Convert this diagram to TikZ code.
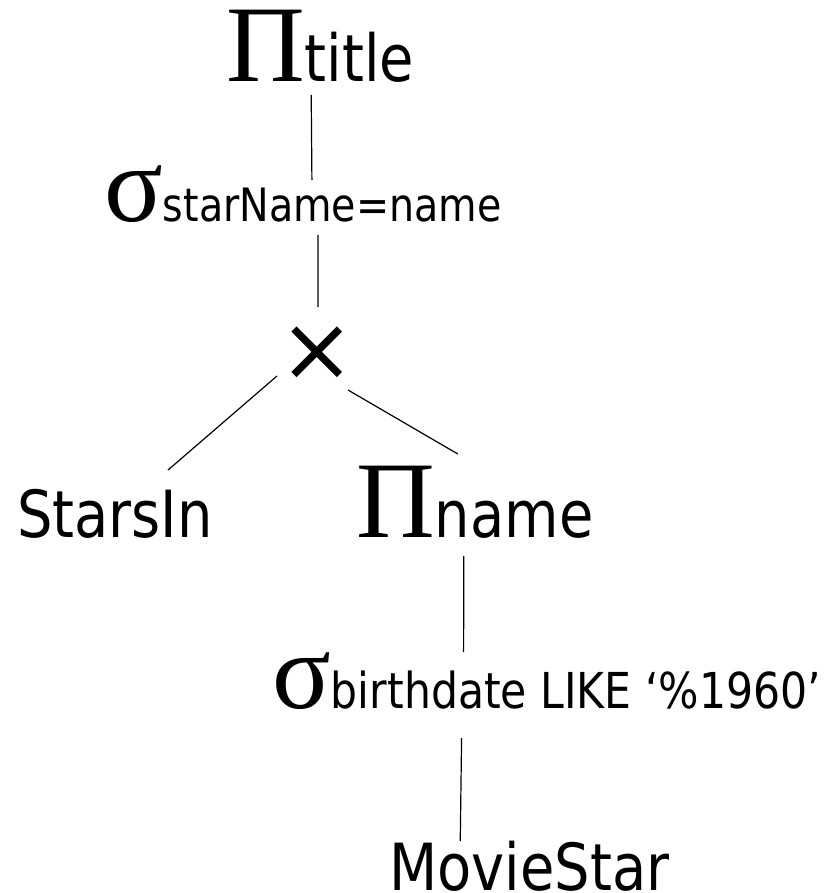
\documentclass[tikz,border=0pt]{standalone}
\usepackage{fontspec}
\setmainfont{DejaVu Sans}[FakeStretch=0.86]
\newfontfamily\opfont{Liberation Serif}
\newfontfamily\crossfont{DejaVu Sans}
\newcommand\opsym[1]{{\fontsize{109}{109}\selectfont\opfont #1}}
\newcommand\bigtxt[1]{{\fontsize{65}{65}\selectfont #1}}
\newcommand\subtxt[2][46]{{\fontsize{#1}{#1}\selectfont #2}}

\begin{document}
\begin{tikzpicture}[x=1pt,y=-1pt,
    lbl/.style={inner sep=0pt,anchor=base west},
    edge/.style={line width=1.2pt}]
  \useasboundingbox (0,0) rectangle (823,893);
  % operator nodes, placed on their baselines
  \node[lbl] (ptitle) at (226,82) {\opsym{Π}\bigtxt{title}};
  \node[lbl] (sstar) at (104,222) {\opsym{σ}\subtxt{starName=name}};
  \node[inner sep=0pt] (cross) at (317,354) {\crossfont\fontsize{90}{90}\selectfont ×};
  \node[lbl] (starsin) at (17,537) {\bigtxt{StarsIn}};
  \node[lbl] (pname) at (356,537) {\opsym{Π}\bigtxt{name}};
  \node[lbl] (sbirth) at (272,708) {\opsym{σ}\subtxt[49.5]{birthdate LIKE ‘\%1960’}};
  \node[lbl] (movie) at (389,890) {\bigtxt{MovieStar}};
  % edges of the tree
  \draw[edge] ([shift={(-9,13)}]ptitle.base) -- ([shift={(9,-42)}]sstar.base);
  \draw[edge] ([shift={(15,13)}]sstar.base) -- ([shift={(1,-47)}]cross.center);
  \draw[edge] ([shift={(-40,22)}]cross.center) -- ([shift={(53,-67)}]starsin.base);
  \draw[edge] ([shift={(31,36)}]cross.center) -- ([shift={(-17,-83)}]pname.base);
  \draw[edge] ([shift={(-11,19)}]pname.base) -- ([shift={(-83,-56)}]sbirth.base);
  \draw[edge] ([shift={(-85,30)}]sbirth.base) -- ([shift={(-69,-49)}]movie.base);
\end{tikzpicture}
\end{document}
